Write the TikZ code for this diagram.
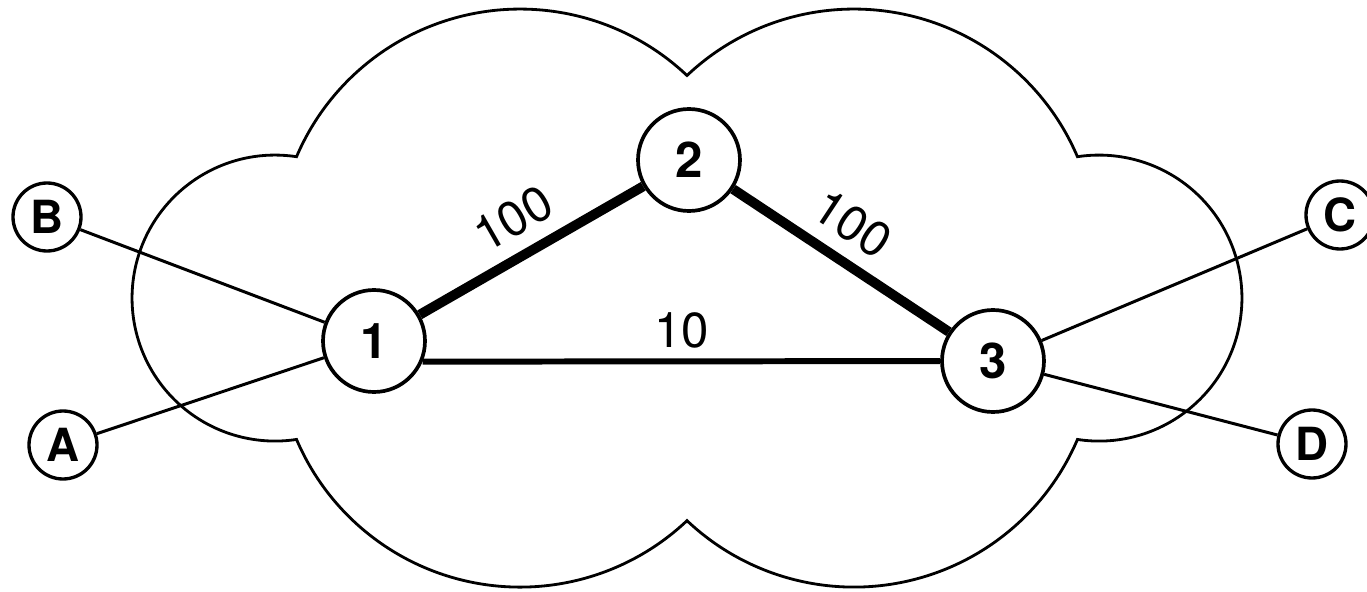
\documentclass[tikz,border=0pt]{standalone}
\usepackage{fontspec}
\setmainfont{TeX Gyre Heros}
\usetikzlibrary{positioning}

\begin{document}
\begin{tikzpicture}[
		router/.style={circle, draw, line width=1.05pt, minimum size=1.02cm, inner sep=0pt, font=\fontsize{14}{16}\selectfont\bfseries},
		host/.style={circle, draw, line width=0.95pt, minimum size=0.68cm, inner sep=0pt, font=\fontsize{13}{15}\selectfont\bfseries},
		cloudline/.style={line width=0.8pt},
		access/.style={line width=0.85pt},
		heavy/.style={line width=2.8pt},
		medium/.style={line width=1.7pt},
		cost/.style={font=\fontsize{14}{16}\selectfont, inner sep=1pt}
		]
		
		\useasboundingbox (0,0) rectangle (13.67,5.91);
		
		% ==========================================
		% NETWORK CLOUD
		% ==========================================
		\draw[cloudline] (6.87,5.155)
		arc[start angle=46.6, end angle=156.9, radius=2.43]
		arc[start angle=81.35, end angle=278.65, radius=1.43]
		arc[start angle=203.1, end angle=313.4, radius=2.43]
		arc[start angle=226.6, end angle=336.9, radius=2.43]
		arc[start angle=-98.65, end angle=98.65, radius=1.43]
		arc[start angle=23.1, end angle=133.4, radius=2.43] -- cycle;
		
		% ==========================================
		% ROUTERS
		% ==========================================
		\node[router] (n1) at (3.74,2.50) {1};
		\node[router] (n2) at (6.89,4.31) {2};
		\node[router] (n3) at (9.93,2.30) {3};
		
		% ==========================================
		% HOSTS
		% ==========================================
		\node[host, on grid, above left=1.24cm and 3.27cm of n1] (B) {B};
		\node[host, on grid, below left=1.04cm and 3.11cm of n1] (A) {A};
		\node[host, on grid, above right=1.46cm and 3.47cm of n3] (C) {C};
		\node[host, on grid, below right=0.83cm and 3.19cm of n3] (D) {D};
		
		% ==========================================
		% LINKS
		% ==========================================
		\draw[heavy] (n1) -- node[cost, sloped, above=3pt] {100} (n2);
		\draw[heavy] (n2) -- node[cost, sloped, above=3pt, pos=0.46] {100} (n3);
		\draw[medium] (n1.-23) -- node[cost, above=2pt] {10} (n3);
		
		\draw[access] (B) -- (n1);
		\draw[access] (A) -- (n1);
		\draw[access] (C) -- (n3);
		\draw[access] (D) -- (n3);
		
	\end{tikzpicture}
\end{document}
